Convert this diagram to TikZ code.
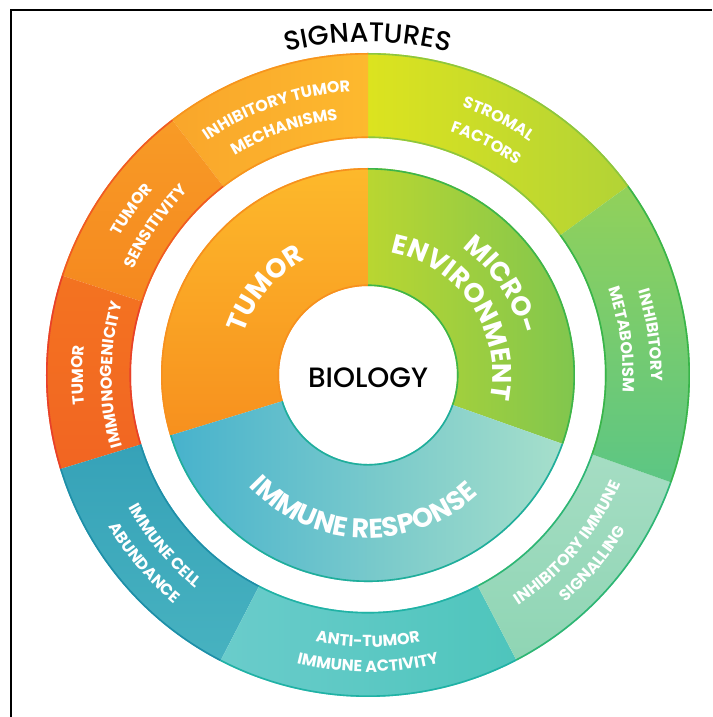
\documentclass[tikz,border=0pt]{standalone}
\usepackage{fontspec}
\newfontfamily\boldfont{Poppins}[UprightFont={* Bold}]
\newfontfamily\medfont{Poppins}[UprightFont={* Medium}]
\usetikzlibrary{decorations.text}

\definecolor{stA}{HTML}{DCE31F}\definecolor{stB}{HTML}{B2D336}\definecolor{stS}{HTML}{8CC63F}
\definecolor{itA}{HTML}{F9A62B}\definecolor{itB}{HTML}{FDB92E}\definecolor{itS}{HTML}{F7941D}
\definecolor{tsA}{HTML}{F89B26}\definecolor{tsB}{HTML}{F5881F}\definecolor{tsS}{HTML}{F05A24}
\definecolor{tiA}{HTML}{F37321}\definecolor{tiB}{HTML}{F26522}\definecolor{tiS}{HTML}{E8402A}
\definecolor{icA}{HTML}{36A2B8}\definecolor{icB}{HTML}{47B2C0}\definecolor{icS}{HTML}{1E8FA8}
\definecolor{atA}{HTML}{6ACCCB}\definecolor{atB}{HTML}{4EC5BC}\definecolor{atS}{HTML}{20B2A5}
\definecolor{isA}{HTML}{A5DDC3}\definecolor{isB}{HTML}{8FD5B4}\definecolor{isS}{HTML}{2DB674}
\definecolor{imA}{HTML}{92D15A}\definecolor{imB}{HTML}{5CC684}\definecolor{imS}{HTML}{39B54A}
\definecolor{tuA}{HTML}{FDB92B}\definecolor{tuB}{HTML}{F7901E}\definecolor{tuS}{HTML}{F7901E}
\definecolor{meA}{HTML}{B9D631}\definecolor{meB}{HTML}{7DC550}\definecolor{meS}{HTML}{3DB54A}
\definecolor{irA}{HTML}{47B2CC}\definecolor{irM}{HTML}{4FCEC6}\definecolor{irB}{HTML}{A6DFCB}\definecolor{irS}{HTML}{1FAE9B}

% annular sector: #1 start angle, #2 end angle, #3 inner r, #4 outer r, #5 shading, #6 stroke colour
\newcommand\sector[6]{%
  \shade[#5] (#1:#4) arc[start angle=#1,end angle=#2,radius=#4pt] -- (#2:#3) arc[start angle=#2,end angle=#1,radius=#3pt] -- cycle;
  \draw[#6,line width=1.6pt] (#1:#4-0.8) arc[start angle=#1,end angle=#2,radius=#4pt-0.8pt];
  \draw[#6,line width=1.6pt] (#1:#3+0.8) arc[start angle=#1,end angle=#2,radius=#3pt+0.8pt];
}
% curved white text: #1 radius, #2 start, #3 end, #4 font, #5 text
\newcommand\arctext[5]{%
  \path[decorate,decoration={text along path,text align=center,text color=white,text={|#4|#5}}] (#2:#1) arc[start angle=#2,end angle=#3,radius=#1pt];
}
\newcommand\outerfont{\boldfont\fontsize{16}{16}\selectfont}
\newcommand\innerfont{\boldfont\fontsize{27}{27}\selectfont}

\begin{document}
\begin{tikzpicture}[x=1pt,y=1pt]
\useasboundingbox (-368,-342) rectangle (344,375);
\fill[white] (-368,-342) rectangle (344,375);
\draw[line width=2pt] (-356.5,-342) -- (-356.5,365) -- (344,365);

% outer ring
\sector{36}{90}{237}{322}{left color=stA,right color=stB}{stS}
\sector{90}{127.5}{237}{322}{left color=itA,right color=itB}{itS}
\sector{127.5}{162}{237}{322}{top color=tsA,bottom color=tsB}{tsS}
\sector{162}{197}{237}{322}{top color=tiA,bottom color=tiB}{tiS}
\sector{197}{242.7}{237}{322}{top color=icA,bottom color=icB}{icS}
\sector{242.7}{297.5}{237}{322}{left color=atA,right color=atB}{atS}
\sector{297.5}{340.5}{237}{322}{top color=isA,bottom color=isB}{isS}
\sector{340.5}{396}{237}{322}{top color=imA,bottom color=imB}{imS}

% inner ring
\sector{90}{197}{89}{207}{top color=tuA,bottom color=tuB}{tuS}
\sector{-19.5}{90}{89}{207}{left color=meA,right color=meB}{meS}
\sector{197}{340.5}{89}{207}{left color=irA,middle color=irM,right color=irB}{irS}

% outer texts (clockwise, tops outward)
\arctext{284}{113}{13}{\outerfont}{STROMAL}
\arctext{257}{113}{13}{\outerfont}{FACTORS}
\arctext{284}{159}{59}{\outerfont}{INHIBITORY TUMOR}
\arctext{257}{159}{59}{\outerfont}{MECHANISMS}
\arctext{284}{195}{95}{\outerfont}{TUMOR}
\arctext{257}{195}{95}{\outerfont}{SENSITIVITY}
\arctext{285}{230}{130}{\outerfont}{TUMOR}
\arctext{256}{230}{130}{\outerfont}{IMMUNOGENICITY}
\arctext{283}{58}{-42}{\outerfont}{INHIBITORY}
\arctext{255}{58}{-42}{\outerfont}{METABOLISM}
% outer texts (counter-clockwise, tops inward)
\arctext{274}{170}{270}{\outerfont}{IMMUNE CELL}
\arctext{300}{170}{270}{\outerfont}{ABUNDANCE}
\arctext{272}{220}{320}{\outerfont}{ANTI-TUMOR}
\arctext{297}{220}{320}{\outerfont}{IMMUNE ACTIVITY}
\arctext{275}{270}{370}{\outerfont}{INHIBITORY IMMUNE}
\arctext{301}{270}{370}{\outerfont}{SIGNALLING}

% inner texts
\arctext{131}{210}{70}{\innerfont}{TUMOR}
\arctext{158.5}{114}{-46}{\innerfont}{MICRO-}
\arctext{124.5}{114}{-46}{\innerfont}{ENVIRONMENT}
\arctext{163}{188}{348}{\innerfont}{IMMUNE RESPONSE}

% title and centre
\path[decorate,decoration={text along path,text align=center,text color=black,text={|\medfont\fontsize{27}{27}\selectfont|SIGNATURES}}] (130:333) arc[start angle=130,end angle=50,radius=333pt];
\node[font=\medfont\fontsize{28}{28}\selectfont,inner sep=0pt] (bio) at (0,-3) {BIOLOGY};
\end{tikzpicture}
\end{document}
